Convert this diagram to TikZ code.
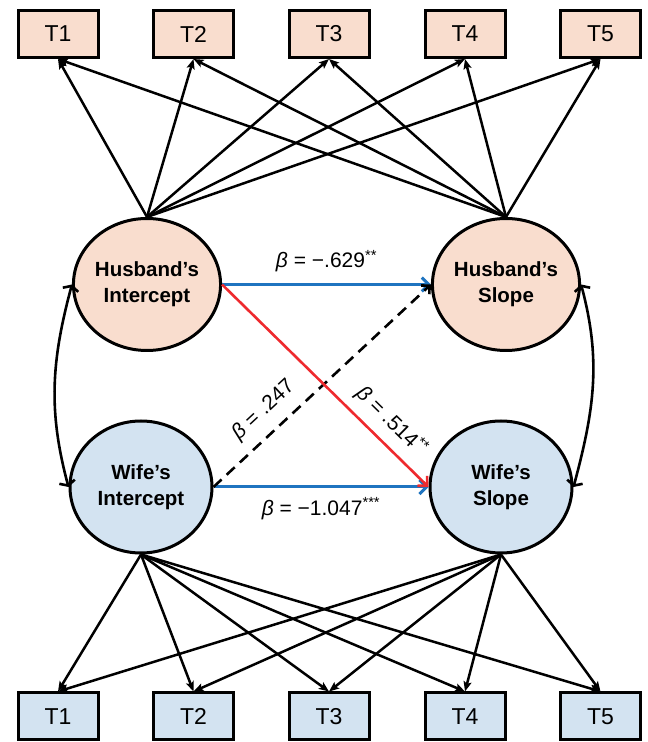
\documentclass[tikz,border=0pt]{standalone}
\usepackage{fontspec}
\setmainfont{Liberation Sans}
\usetikzlibrary{shapes.geometric,arrows.meta}
\definecolor{pinkfill}{HTML}{F9DDCE}
\definecolor{bluefill}{HTML}{D3E3F1}
\definecolor{arrowblue}{HTML}{1F74C0}
\definecolor{arrowred}{HTML}{EE2A2E}
\begin{document}
\begin{tikzpicture}[x=1pt,y=1pt,
  obs/.style={draw, line width=3pt, minimum width=80pt, minimum height=47pt, inner sep=0pt,
    font=\fontsize{23}{23}\selectfont},
  lat/.style={draw, ellipse, line width=3pt, minimum width=142pt, minimum height=132pt,
    inner sep=0pt, align=center, font=\fontsize{20.5}{26}\selectfont\bfseries},
  loadarrow/.style={line width=2.5pt, -{Stealth[length=10pt,width=8pt,inset=2pt]}},
  pathblue/.style={line width=3pt, draw=arrowblue, -{Straight Barb[length=7pt,width=14pt,line width=3pt]}},
  pathred/.style={line width=2.6pt, draw=arrowred, -{Straight Barb[length=7pt,width=14pt,line width=2.6pt]}},
  pathdash/.style={line width=2.6pt, dash pattern=on 11pt off 7pt, -{Straight Barb[length=6pt,width=12pt,line width=2.6pt]}},
  covar/.style={line width=2.6pt, {Straight Barb[length=4pt,width=16pt]}-{Straight Barb[length=4pt,width=16pt]}},
  lab/.style={inner sep=0pt, font=\fontsize{21}{21}\selectfont}
]
\useasboundingbox (0,0) rectangle (648,742);

% observed indicators
\foreach \i/\x in {1/58,2/193.5,3/329,4/465,5/600.5}{
  \node[obs, fill=pinkfill] (H\i) at (\x,708) {T\i};
  \node[obs, fill=bluefill] (W\i) at (\x,25.5) {T\i};
}

% latent factors
\node[lat, fill=pinkfill] (HI) at (147,457.5) {Husband’s\\Intercept};
\node[lat, fill=pinkfill] (HS) at (506,457.5) {Husband’s\\Slope};
\node[lat, fill=bluefill] (WI) at (141,255) {Wife’s\\Intercept};
\node[lat, fill=bluefill] (WS) at (501,255) {Wife’s\\Slope};

% loadings
\foreach \i in {1,...,5}{
  \draw[loadarrow] (HI.north) -- (H\i.south);
  \draw[loadarrow] (HS.north) -- (H\i.south);
  \draw[loadarrow] (WI.south) -- (W\i.north);
  \draw[loadarrow] (WS.south) -- (W\i.north);
}

% covariances
\draw[covar] (HI.west) to[out=255,in=105] (WI.west);
\draw[covar] (HS.east) to[out=285,in=75] (WS.east);

% structural paths
\draw[pathblue] (HI) -- (HS)
  node[lab, midway, above=11pt] {\textit{β} = −.629\textsuperscript{**}};
\draw[pathblue] (WI) -- (WS)
  node[lab, midway, below=9pt] {\textit{β} = −1.047\textsuperscript{***}};
\draw[pathdash] (WI.east) -- (HS.west)
  node[lab, pos=0.3, sloped, above=11pt] {\textit{β} = .247};
\draw[pathred] (HI.east) -- (WS.west)
  node[lab, pos=0.75, sloped, above=9pt] {\textit{β} = .514\textsuperscript{**}};
\end{tikzpicture}
\end{document}
